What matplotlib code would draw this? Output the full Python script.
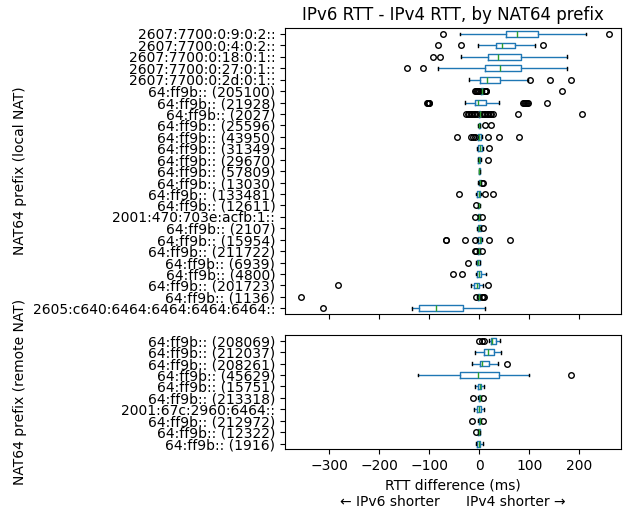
import matplotlib
matplotlib.use("Agg")
import matplotlib.pyplot as plt

# ---- data (top-to-bottom order) ----
local_labels = [
    "2607:7700:0:9:0:2::", "2607:7700:0:4:0:2::", "2607:7700:0:18:0:1::",
    "2607:7700:0:27:0:1::", "2607:7700:0:2d:0:1::", "64:ff9b:: (205100)",
    "64:ff9b:: (21928)", "64:ff9b:: (2027)", "64:ff9b:: (25596)",
    "64:ff9b:: (43950)", "64:ff9b:: (31349)", "64:ff9b:: (29670)",
    "64:ff9b:: (57809)", "64:ff9b:: (13030)", "64:ff9b:: (133481)",
    "64:ff9b:: (12611)", "2001:470:703e:acfb:1::", "64:ff9b:: (2107)",
    "64:ff9b:: (15954)", "64:ff9b:: (211722)", "64:ff9b:: (6939)",
    "64:ff9b:: (4800)", "64:ff9b:: (201723)", "64:ff9b:: (1136)",
    "2605:c640:6464:6464:6464:6464::",
]
local_whislo = [-39, -3, -37, -82, -21, 2, -28, -2, -2, -6, -5, -3, -1.5, -2, -6,
                -3, -3, -5, -5, -4, -7, -7, -16, -5, -135]
local_q1 = [54, 34, 18, 11, 1, 4, -8, 0, -1, -3, -3, -2, -1, -1, -4,
            -2, -2, -3, -3, -3, -5, -5, -10, -3, -120]
local_med = [75, 45, 37, 42, 16, 6, -2, 1, 0, 0, 1, 0, 0, 1, -0.5,
             -1, -1, -1, 1.5, -1, -2.5, 0, -4, -1, -85.5]
local_q3 = [118, 72, 83, 83, 41, 8, 12.5, 2, 1, 3, 5, 2, 1, 3, 2,
            0, 1, 3, 4, 1, 1, 4, 0, 2, -32.6]
local_whishi = [213, 111, 175, 175, 97, 9, 39, 4, 2, 5, 7, 3, 1.5, 4, 3,
                1, 2, 4, 6, 2, 2, 12.5, 7, 3, 11]
local_fliers = [
    [-72, 260], [-82, -36, 127], [-92, -79], [-144, -112], [102, 142, 183],
    [-8, -6, -4, -2, 0, 11, 12, 13, 14, 165],
    [-104, -103, -102, -101, -100, 88, 90, 92, 94, 96, 98, 136],
    [-26, -23, -20, -17, -14, -11, -8, -5, 6, 9, 12, 15, 18, 21, 24, 27, 78, 205],
    [12, 24], [-45, -17, -13, -9, 18, 40, 79], [20], [17], [], [6, 8],
    [-41, 11, 27], [-6], [-8, 5], [8], [-67, -66, -29, -9, 19, 62],
    [-9, -6, 5], [-22], [-52, -35], [-283, 16.5], [-356, -7, 5, 8, 10], [-313],
]

remote_labels = [
    "64:ff9b:: (208069)", "64:ff9b:: (212037)", "64:ff9b:: (208261)",
    "64:ff9b:: (45629)", "64:ff9b:: (15751)", "64:ff9b:: (213318)",
    "2001:67c:2960:6464::", "64:ff9b:: (212972)", "64:ff9b:: (12322)",
    "64:ff9b:: (1916)",
]
remote_whislo = [20, -9, -15, -122, -9, -2, -11, -2, -3, -6]
remote_q1 = [22.5, 8.5, 2, -38, -3, -1, -5, -1, -2, -4]
remote_med = [26, 17, 5, -3, 0.7, 0.5, -1, 0.5, 0, -1]
remote_q3 = [32.4, 30, 18.5, 39, 4, 2, 4, 2, 1, 1.7]
remote_whishi = [42, 44, 37, 99, 9, 3, 10, 3, 1.5, 8]
remote_fliers = [[-1.4, 5, 8.5], [], [56], [183], [], [-13, 7], [], [-14.5, 7], [-6], []]

x_ticks = [-300, -200, -100, 0, 100, 200]


def make_stats(labels, wlo, q1, med, q3, whi, fl):
    return [dict(label=l, whislo=a, q1=b, med=c, q3=d, whishi=e, fliers=f)
            for l, a, b, c, d, e, f in zip(labels, wlo, q1, med, q3, whi, fl)]


blue = "#1f77b4"
green = "#2ca02c"
props = dict(
    boxprops=dict(color=blue),
    whiskerprops=dict(color=blue),
    capprops=dict(color="k"),
    medianprops=dict(color=green),
    flierprops=dict(marker="o", markersize=4, markerfacecolor="none",
                    markeredgecolor="k"),
)

fig = plt.figure(figsize=(6.24, 5.13), dpi=100)
ax1 = fig.add_axes([0.4567, 0.388, 0.5385, 0.557])
ax2 = fig.add_axes([0.4567, 0.124, 0.5385, 0.223], sharex=ax1)

for ax, stats in [
    (ax1, make_stats(local_labels, local_whislo, local_q1, local_med,
                     local_q3, local_whishi, local_fliers)),
    (ax2, make_stats(remote_labels, remote_whislo, remote_q1, remote_med,
                     remote_q3, remote_whishi, remote_fliers)),
]:
    n = len(stats)
    positions = list(range(n, 0, -1))
    ax.bxp(stats, positions=positions, vert=False, widths=0.5, **props)
    ax.set_yticks(positions)
    ax.set_yticklabels([s["label"] for s in stats])
    ax.set_ylim(0.5, n + 0.5)

ax1.set_xlim(-388, 283)
ax1.set_xticks(x_ticks)
ax1.tick_params(axis="x", labelbottom=False)
ax2.set_xticks(x_ticks)
ax1.set_title("IPv6 RTT - IPv4 RTT, by NAT64 prefix")
ax1.set_ylabel("NAT64 prefix (local NAT)")
ax2.set_ylabel("NAT64 prefix (remote NAT)")
ax2.set_xlabel("RTT difference (ms)\n\u2190 IPv6 shorter      IPv4 shorter \u2192")
ax1.yaxis.set_label_coords(-0.768, 0.5)
ax2.yaxis.set_label_coords(-0.768, 0.5)

fig.savefig("out.png", dpi=100)
